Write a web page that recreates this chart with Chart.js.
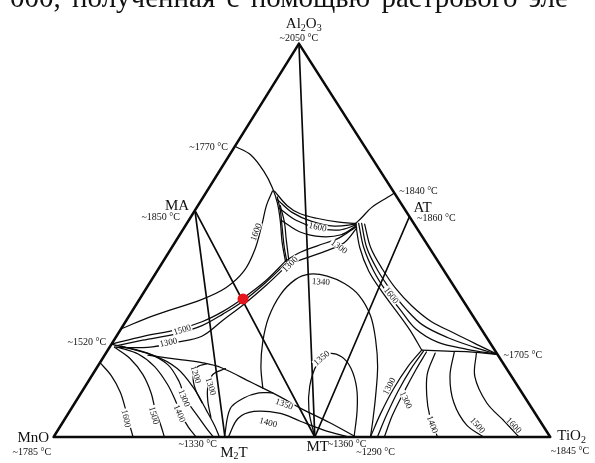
<!DOCTYPE html>
<html>
<head>
<meta charset="utf-8">
<script src="https://cdn.jsdelivr.net/npm/chart.js@4.4.1/dist/chart.umd.min.js"></script>
<style>
  html, body { margin: 0; padding: 0; background: #fff; }
  #wrap { position: relative; width: 595px; height: 463px; overflow: hidden; }
  #chart { position: absolute; left: 0; top: 0; }
  /* cropped line of page text above the figure, justified so words sit a bit apart */
  #caption { position: absolute; left: 10px; top: -17px; font: 29px "Liberation Serif", serif; line-height: 29px; word-spacing: 4px; white-space: nowrap; color: #111; }
</style>
</head>
<body>
<div id="wrap">
  <canvas id="chart" width="595" height="463"></canvas>
  <div id="caption">000, полученная с помощью растрового эле</div>
</div>
<script>
'use strict';
// every point is [TiO2 wt%, Al2O3 wt%], MnO is what is left
const SKEW = 0.494; // printed apex sits a little left of centre

const corners = [[0, 0], [100, 0], [0, 100], [0, 0]];
const AL2O3 = [0, 100];
const MA = [0, 57.6];
const AT = [44.0, 55.8];
const MT = [52.6, 0];
const M2T = [34.5, 0];
const redDot = [20.8, 35.1];

// compatibility joins
const joins = [[AL2O3, MT], [MA, M2T], [MA, MT], [AT, MT]];

// boundary curves and isotherms
const arc1770 = [[0, 73.9], [4.3, 71.7], [9.0, 67.5], [12.8, 63.3], [15.8, 59.3], [18.7, 54.6], [21.5, 49.6], [24.6, 44.7]];
const cuspSide1 = [[14.9, 61.0], [17.2, 57.6], [19.8, 53.1], [22.7, 48.1], [25.2, 44.2]];
const cuspSide2 = [[16.6, 58.8], [19.5, 54.6], [22.1, 50.1], [25.9, 43.7]];
const cuspTop = [[13.6, 62.5], [18.0, 58.8], [21.5, 56.8], [25.5, 55.6], [30.5, 54.6], [34.0, 54.3]];
const edge1840 = [[38.0, 62.0], [37.2, 61.0], [35.2, 58.3], [34.5, 55.8], [34.0, 54.3]];
const cusp1600 = [[15.3, 60.3], [19.8, 57.1], [24.9, 54.8], [30.0, 53.6], [34.2, 54.1]];
const cuspA2 = [[16.8, 58.1], [21.6, 55.1], [26.9, 53.1], [31.5, 52.6], [34.3, 53.9]];
const cuspA3 = [[18.6, 55.1], [23.9, 52.1], [28.8, 50.9], [32.5, 51.4], [34.4, 53.6]];
const cuspLow0 = [[34.5, 53.4], [32.5, 50.6], [29.1, 48.6], [26.2, 46.7], [24.6, 44.7]];
const cuspLow1 = [[34.8, 53.1], [34.1, 49.4], [31.3, 47.2], [28.2, 45.4], [25.3, 43.9]];
const maLow0 = [[0, 23.6], [5.4, 25.6], [11.4, 27.3], [15.4, 29.3], [18.4, 32.0], [20.7, 35.2], [23.1, 39.7], [24.6, 44.7]];
const maLow1 = [[0.9, 23.1], [5.8, 24.6], [11.9, 26.3], [15.9, 28.3], [18.7, 31.3], [21.1, 34.5], [23.3, 39.2], [25.0, 44.2]];
const maLow2 = [[1.4, 22.8], [7.7, 22.8], [13.0, 24.1], [17.2, 25.6], [19.5, 29.8], [21.7, 33.8], [23.8, 38.7], [25.5, 43.7]];
const ma1600 = [[0, 27.5], [4.8, 30.8], [12.6, 35.0], [16.0, 38.0], [17.5, 42.2], [17.0, 47.6], [15.3, 53.9], [13.8, 58.8], [13.2, 62.5]];
const mno1600 = [[0, 18.9], [3.9, 15.6], [7.8, 11.4], [10.9, 7.2], [13.5, 3.5], [16.0, 0]];
const mno1500 = [[1.0, 22.8], [5.6, 19.9], [10.1, 15.9], [14.1, 11.2], [17.2, 6.7], [20.1, 3.0], [22.3, 0]];
const mno1400 = [[1.8, 22.8], [6.6, 21.1], [11.5, 17.9], [16.3, 13.4], [20.0, 9.2], [22.6, 6.0], [25.9, 2.5], [28.7, 0]];
const mno1300 = [[2.2, 23.1], [8.4, 21.3], [13.9, 18.4], [18.3, 14.1], [21.6, 9.9], [26.2, 5.5], [29.7, 2.2], [32.2, 0]];
const mnoEdge = [[0, 23.6], [9.7, 20.8], [16.3, 17.4], [22.1, 12.4], [27.5, 6.7], [30.9, 3.0], [33.4, 0]];
const m2tEdge = [[8.7, 20.8], [16.2, 19.6], [20.5, 18.9], [25.1, 17.6], [32.9, 13.9], [40.6, 10.2], [45.9, 7.4], [53.7, 3.7], [60.9, 0]];
const m2t1200 = [[25.6, 8.7], [22.5, 12.2], [20.5, 15.4], [20.2, 17.9], [21.6, 18.6]];
const m2t1300 = [[29.2, 5.0], [26.5, 9.2], [24.7, 12.9], [24.2, 15.9], [26.0, 17.4]];
const dome1350 = [[34.4, 0], [32.0, 7.2], [33.4, 9.9], [35.8, 11.2], [38.6, 11.2]];
const dome1400 = [[35.2, 0], [34.8, 4.7], [37.1, 6.5], [42.7, 6.0], [47.7, 4.0], [53.7, 1.7], [59.5, 0]];
const mt1350 = [[52.6, 0], [48.1, 6.7], [45.2, 12.9], [43.9, 18.4], [44.7, 21.1], [47.9, 20.4], [51.3, 17.4], [54.9, 12.4], [57.8, 6.7], [60.5, 0]];
const oval1340 = [[36.0, 12.4], [32.9, 17.9], [30.2, 24.1], [28.3, 30.3], [27.8, 36.2], [28.9, 40.0], [31.1, 41.4], [34.9, 40.9], [39.3, 39.0], [43.7, 36.0], [48.6, 30.8], [52.7, 24.6], [56.4, 17.9], [59.7, 10.4], [62.2, 4.2], [63.8, 0]];
const atEdge0 = [[34.0, 54.3], [37.9, 48.1], [42.6, 42.2], [47.8, 37.0], [53.2, 32.0], [58.4, 27.1], [63.2, 22.1]];
const atEdge1 = [[34.6, 54.3], [38.7, 48.1], [43.6, 42.2], [48.7, 37.0], [54.2, 32.0], [59.3, 27.5], [65.4, 24.1], [72.2, 22.3], [79.0, 21.0]];
const atEdge2 = [[35.2, 54.3], [39.3, 48.1], [44.3, 42.4], [49.6, 37.2], [54.9, 32.5], [60.2, 28.5], [66.8, 25.3], [73.5, 22.8], [79.0, 21.0]];
const atEdge3 = [[35.9, 54.1], [40.1, 48.1], [45.1, 42.7], [50.3, 37.7], [55.7, 33.3], [61.3, 29.5], [67.8, 26.3], [74.1, 23.3], [79.0, 21.0]];
const edge1705 = [[63.2, 22.1], [68.5, 21.8], [73.7, 21.6], [79.0, 21.0]];
const tiEdge0 = [[63.2, 22.1], [62.5, 17.9], [62.4, 12.2], [62.9, 6.0], [63.8, 0]];
const tiEdge1 = [[63.7, 21.8], [63.4, 17.4], [63.6, 11.7], [64.3, 5.5], [65.2, 0]];
const tiEdge2 = [[64.4, 21.6], [64.5, 17.1], [64.9, 11.4], [65.5, 5.5], [66.6, 0]];
const ti1400 = [[66.3, 21.3], [67.3, 16.1], [70.0, 10.4], [73.0, 5.5], [77.3, 0]];
const ti1500 = [[70.0, 21.6], [72.2, 15.4], [76.3, 8.7], [81.7, 3.0], [86.6, 0]];
const ti1600 = [[74.6, 21.3], [77.2, 15.4], [82.9, 8.7], [88.8, 4.0], [93.7, 0]];

const curves = [arc1770, cuspSide1, cuspSide2, cuspTop, edge1840, cusp1600, cuspA2, cuspA3,
  cuspLow0, cuspLow1, maLow0, maLow1, maLow2, ma1600, mno1600, mno1500, mno1400, mno1300,
  mnoEdge, m2tEdge, m2t1200, m2t1300, dome1350, dome1400, mt1350, oval1340,
  atEdge0, atEdge1, atEdge2, atEdge3, edge1705, tiEdge0, tiEdge1, tiEdge2, ti1400, ti1500, ti1600];

// isotherm numbers written along the curves
const isoText = ['1600', '1600', '1300', '1300', '1340', '1600', '1500', '1300', '1600', '1500', '1400',
  '1300', '1200', '1300', '1350', '1400', '1350', '1300', '1300', '1400', '1500', '1600'];
const isoPos = [[15.0, 52.1], [26.8, 53.4], [33.6, 48.4], [25.9, 43.9], [34.3, 39.5], [50.2, 36.0],
  [12.4, 27.3], [11.2, 24.1], [12.3, 4.7], [17.5, 5.5], [22.4, 6.0], [21.4, 9.9], [20.8, 15.9],
  [25.3, 12.9], [42.3, 8.4], [41.4, 3.7], [44.0, 20.1], [61.2, 12.9], [66.3, 9.4], [74.7, 3.2],
  [83.9, 3.0], [91.2, 3.0]];
const isoAngle = [-70, 12, 35, -45, 3, 53, -18, -12, 78, 75, 67, 68, 72, 72, 20, 15, -40, -62, 65, 70, 48, 45];

// melting / eutectic temperatures
const tempText = ['~2050 °C', '~1770 °C', '~1850 °C', '~1840 °C', '~1860 °C', '~1520 °C', '~1705 °C',
  '~1785 °C', '~1845 °C', '~1330 °C', '~1360 °C', '~1290 °C'];
const tempPos = [[-0.6, 101.2], [-5.2, 73.7], [-6.0, 55.8], [42.6, 62.5], [49.6, 55.6], [-5.2, 24.1],
  [84.2, 20.8], [-2.4, -4.0], [105.8, -3.7], [30.0, -2.0], [60.1, -2.0], [66.8, -4.0]];

// phase names, pieces flagged true are subscripts
const phaseText = [[['Al', false], ['2', true], ['O', false], ['3', true]], [['MA', false]], [['AT', false]],
  [['MnO', false]], [['TiO', false], ['2', true]], [['M', false], ['2', true], ['T', false]], [['MT', false]]];
const phasePos = [[-1.5, 105.0], [-4.2, 58.8], [45.5, 58.3], [-4.0, -0.2], [104.2, 0.2], [38.3, -4.0], [54.4, -2.5]];

function toXY(p) {
  return { x: p[0] + SKEW * p[1], y: p[1] };
}

function lineSet(pts, w, t) {
  return {
    data: pts.map(toXY), showLine: true, borderColor: '#0a0a0a', borderWidth: w,
    pointRadius: 0, tension: t, fill: false, borderCapStyle: 'round', borderJoinStyle: 'round'
  };
}

let datasets = [];
datasets.push({ data: [toXY(redDot)], pointRadius: 5.5, pointBackgroundColor: '#e5141d', pointBorderWidth: 0, showLine: false });
datasets.push(lineSet(corners, 2.5, 0));
joins.forEach(j => datasets.push(lineSet(j, 1.7, 0)));
curves.forEach(c => datasets.push(lineSet(c, 1.25, 0.35)));

const textPlugin = {
  id: 'diagramText',
  afterDatasetsDraw(chart) {
    const ctx = chart.ctx;
    const sx = chart.scales.x, sy = chart.scales.y;
    const px = p => sx.getPixelForValue(p[0] + SKEW * p[1]);
    const py = p => sy.getPixelForValue(p[1]);
    ctx.save();
    ctx.textAlign = 'center';
    ctx.textBaseline = 'middle';

    ctx.font = '9px "Liberation Serif"';
    for (let i = 0; i < isoText.length; i++) {
      ctx.save();
      ctx.translate(px(isoPos[i]), py(isoPos[i]));
      ctx.rotate(isoAngle[i] * Math.PI / 180);
      let w = ctx.measureText(isoText[i]).width;
      ctx.fillStyle = '#fff';
      ctx.fillRect(-w / 2 - 1, -3.5, w + 2, 7);
      ctx.fillStyle = '#111';
      ctx.fillText(isoText[i], 0, 0.5);
      ctx.restore();
    }

    ctx.font = '10px "Liberation Serif"';
    ctx.fillStyle = '#111';
    for (let i = 0; i < tempText.length; i++) {
      ctx.fillText(tempText[i], px(tempPos[i]), py(tempPos[i]));
    }

    for (let i = 0; i < phaseText.length; i++) {
      const parts = phaseText[i];
      let total = 0;
      parts.forEach(pt => {
        ctx.font = (pt[1] ? '10px' : '15px') + ' "Liberation Serif"';
        total += ctx.measureText(pt[0]).width;
      });
      let x = px(phasePos[i]) - total / 2;
      const y = py(phasePos[i]);
      ctx.textAlign = 'left';
      parts.forEach(pt => {
        ctx.font = (pt[1] ? '10px' : '15px') + ' "Liberation Serif"';
        ctx.fillText(pt[0], x, pt[1] ? y + 4 : y);
        x += ctx.measureText(pt[0]).width;
      });
      ctx.textAlign = 'center';
    }
    ctx.restore();
  }
};

new Chart(document.getElementById('chart'), {
  type: 'scatter',
  data: { datasets: datasets },
  options: {
    responsive: false,
    animation: false,
    devicePixelRatio: 1,
    layout: { padding: 0 },
    plugins: { legend: { display: false }, tooltip: { enabled: false } },
    scales: {
      x: { type: 'linear', min: -9.684, max: 107.905, display: false },
      y: { type: 'linear', min: -5.211, max: 109.677, display: false }
    }
  },
  plugins: [textPlugin]
});
</script>
</body>
</html>
